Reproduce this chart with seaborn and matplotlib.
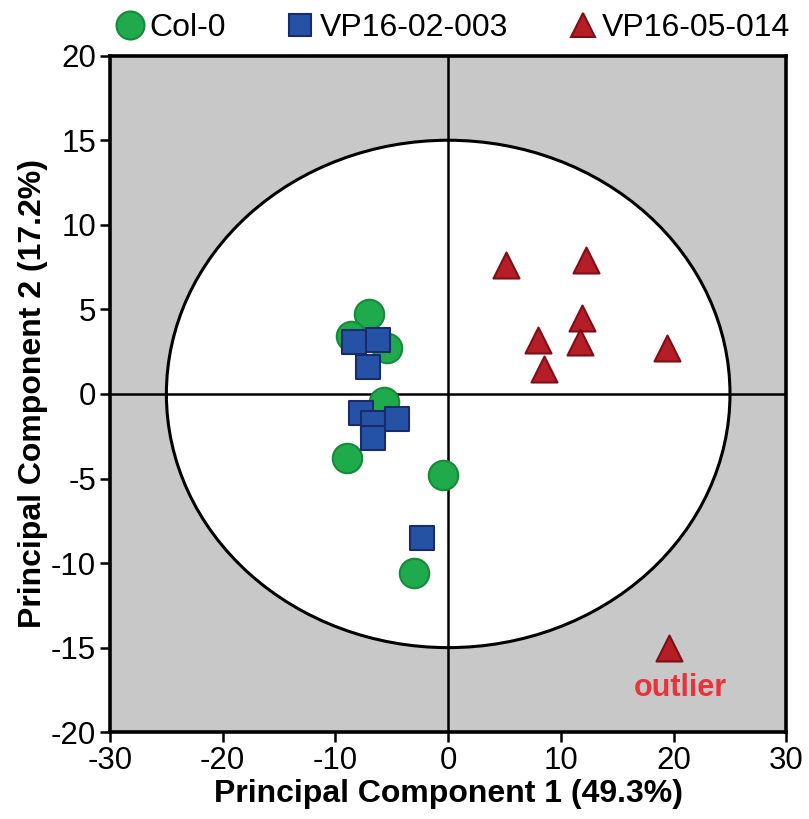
import numpy as np
import pandas as pd
import matplotlib
matplotlib.use("Agg")
import matplotlib.pyplot as plt
from matplotlib.patches import Ellipse
from matplotlib.lines import Line2D
import seaborn as sns

# PCA scores per genotype
col0_pc1 = [-7.0, -8.6, -5.4, -5.7, -9.0, -0.5, -3.0]
col0_pc2 = [4.7, 3.4, 2.7, -0.5, -3.8, -4.8, -10.6]

vp02_pc1 = [-8.4, -6.2, -7.1, -7.7, -6.7, -4.5, -6.7, -2.3]
vp02_pc2 = [3.1, 3.2, 1.6, -1.1, -1.7, -1.5, -2.6, -8.5]

vp05_pc1 = [5.1, 12.2, 11.9, 8.0, 11.7, 8.5, 19.4, 19.6]
vp05_pc2 = [7.6, 7.9, 4.5, 3.2, 3.1, 1.5, 2.7, -15.0]

groups = ["Col-0", "VP16-02-003", "VP16-05-014"]
x_ticks = [-30, -20, -10, 0, 10, 20, 30]
y_ticks = [-20, -15, -10, -5, 0, 5, 10, 15, 20]

# Hotelling T2 ellipse (semi-axes on PC1, PC2)
ellipse_a = 25.0
ellipse_b = 15.0

outlier_label = "outlier"
outlier_idx = 7

df = pd.DataFrame({
    "PC1": col0_pc1 + vp02_pc1 + vp05_pc1,
    "PC2": col0_pc2 + vp02_pc2 + vp05_pc2,
    "Genotype": [groups[0]] * len(col0_pc1) + [groups[1]] * len(vp02_pc1)
                + [groups[2]] * len(vp05_pc1),
})

styles = {
    "Col-0": dict(marker="o", face="#1fab4b", edge="#168a3b", s=450),
    "VP16-02-003": dict(marker="s", face="#2453a6", edge="#1b2a6b", s=290),
    "VP16-05-014": dict(marker="^", face="#b51e27", edge="#7d1016", s=350),
}

sns.set_style("white")
plt.rcParams["font.family"] = ["Liberation Sans", "DejaVu Sans"]
plt.rcParams["axes.unicode_minus"] = False
for key in ("text.color", "axes.labelcolor", "xtick.color", "ytick.color"):
    plt.rcParams[key] = "black"

fig = plt.figure(figsize=(8.09, 8.19), dpi=100)
ax = fig.add_axes([0.136, 0.106, 0.836, 0.826])

ax.set_facecolor("#c8c8c8")
ax.add_patch(Ellipse((0, 0), 2 * ellipse_a, 2 * ellipse_b, facecolor="white",
                     edgecolor="black", linewidth=2.2, zorder=1))
ax.axhline(0, color="black", linewidth=1.8, zorder=2)
ax.axvline(0, color="black", linewidth=1.8, zorder=2)

for g in groups:
    st = styles[g]
    sns.scatterplot(data=df[df["Genotype"] == g], x="PC1", y="PC2",
                    marker=st["marker"], color=st["face"], edgecolor=st["edge"],
                    linewidth=1.5, s=st["s"], ax=ax, zorder=3, legend=False)

ax.text(vp05_pc1[outlier_idx] + 1.0, vp05_pc2[outlier_idx] - 2.4, outlier_label,
        color="#e8333a", fontsize=22, fontweight="bold", ha="center", va="center")

ax.set_xlim(-30, 30)
ax.set_ylim(-20, 20)
ax.set_xticks(x_ticks)
ax.set_yticks(y_ticks)
ax.tick_params(axis="both", direction="out", length=7, width=1.8,
               labelsize=22.5, pad=3, bottom=True, left=True, colors="black")
for sp in ax.spines.values():
    sp.set_linewidth(2.6)
    sp.set_color("black")

ax.set_xlabel("Principal Component 1 (49.3%)", fontsize=23, fontweight="bold",
              labelpad=2, color="black")
ax.set_ylabel("Principal Component 2 (17.2%)", fontsize=23, fontweight="bold",
              labelpad=2, color="black")

handles = [Line2D([], [], linestyle="none", marker=styles[g]["marker"],
                  markerfacecolor=styles[g]["face"], markeredgecolor=styles[g]["edge"],
                  markeredgewidth=1.5, markersize=np.sqrt(styles[g]["s"]) * 0.95)
           for g in groups]
leg = fig.legend(handles, groups, loc="center", bbox_to_anchor=(0.557, 0.966), ncol=3,
                 frameon=False, fontsize=23, handletextpad=0.0, columnspacing=1.75,
                 handlelength=1.2, borderaxespad=0.0, borderpad=0.0)
for t in leg.get_texts():
    t.set_color("black")

fig.savefig("out.png", dpi=100)
